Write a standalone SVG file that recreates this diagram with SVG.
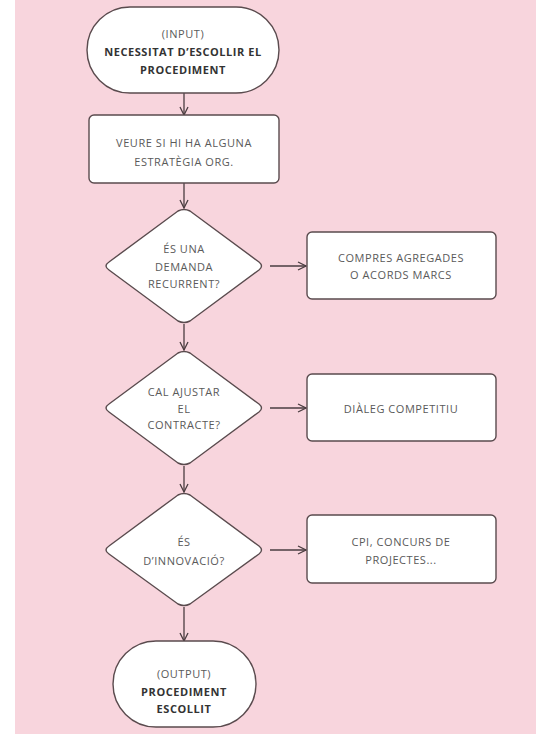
<svg xmlns="http://www.w3.org/2000/svg" width="538" height="734" viewBox="0 0 538 734">
  <defs>
    <marker id="arrow" viewBox="0 0 10 10" refX="9" refY="5" markerWidth="10" markerHeight="10" markerUnits="userSpaceOnUse" orient="auto">
      <path d="M1,1 L9,5 L1,9" fill="none" stroke="#4a3d40" stroke-width="1.3"/>
    </marker>
  </defs>
  <style>
    .shape { fill: #ffffff; stroke: #5a4b4e; stroke-width: 1.4; }
    .edge { fill: none; stroke: #4a3d40; stroke-width: 1.3; marker-end: url(#arrow); }
    text { font-family: "Open Sans", "Noto Sans", "Liberation Sans", sans-serif; font-size: 11px; letter-spacing: 0.55px; text-anchor: middle; dominant-baseline: central; }
    .reg { fill: #5a5a5a; }
    .bold { fill: #333333; font-weight: 700; }
  </style>

  <!-- page -->
  <rect x="0" y="0" width="538" height="734" fill="#ffffff"/>
  <rect x="15" y="0" width="521" height="734" fill="#f8d5dd"/>

  <!-- connectors -->
  <g id="connectors">
    <line class="edge" x1="184" y1="93" x2="184" y2="115"/>
    <line class="edge" x1="184" y1="183" x2="184" y2="208"/>
    <line class="edge" x1="184" y1="324" x2="184" y2="350"/>
    <line class="edge" x1="184" y1="466" x2="184" y2="492"/>
    <line class="edge" x1="184" y1="607" x2="184" y2="641"/>
    <line class="edge" x1="270" y1="266" x2="306" y2="266"/>
    <line class="edge" x1="270" y1="408" x2="306" y2="408"/>
    <line class="edge" x1="270" y1="550" x2="306" y2="550"/>
  </g>

  <!-- start -->
  <g id="input">
    <rect class="shape" x="87" y="7" width="192" height="86" rx="43" ry="43"/>
    <text class="reg" x="183" y="33">(INPUT)</text>
    <text class="bold" x="183" y="51">NECESSITAT D’ESCOLLIR EL</text>
    <text class="bold" x="183" y="69">PROCEDIMENT</text>
  </g>

  <g id="estrategia">
    <rect class="shape" x="89" y="115" width="190" height="68" rx="5" ry="5"/>
    <text class="reg" x="184" y="142">VEURE SI HI HA ALGUNA</text>
    <text class="reg" x="184" y="161">ESTRATÈGIA ORG.</text>
  </g>

  <g id="recurrent">
    <path class="shape" d="M178,211 Q184,208 190,211 L259,262 Q264,266 259,270 L190,321 Q184,324 178,321 L109,270 Q103,266 109,262 Z"/>
    <text class="reg" x="184" y="248">ÉS UNA</text>
    <text class="reg" x="184" y="266">DEMANDA</text>
    <text class="reg" x="184" y="283">RECURRENT?</text>
  </g>

  <g id="compres">
    <rect class="shape" x="307" y="232" width="189" height="67" rx="5" ry="5"/>
    <text class="reg" x="401" y="257">COMPRES AGREGADES</text>
    <text class="reg" x="401" y="274">O ACORDS MARCS</text>
  </g>

  <g id="ajustar">
    <path class="shape" d="M178,353 Q184,350 190,353 L259,404 Q264,408 259,412 L190,463 Q184,466 178,463 L109,412 Q103,408 109,404 Z"/>
    <text class="reg" x="184" y="391">CAL AJUSTAR</text>
    <text class="reg" x="184" y="408">EL</text>
    <text class="reg" x="184" y="424">CONTRACTE?</text>
  </g>

  <g id="dialeg">
    <rect class="shape" x="307" y="374" width="189" height="67" rx="5" ry="5"/>
    <text class="reg" x="401" y="408">DIÀLEG COMPETITIU</text>
  </g>

  <g id="innovacio">
    <path class="shape" d="M178,495 Q184,492 190,495 L259,546 Q264,550 259,554 L190,604 Q184,607 178,604 L109,554 Q103,550 109,546 Z"/>
    <text class="reg" x="184" y="541">ÉS</text>
    <text class="reg" x="184" y="560">D’INNOVACIÓ?</text>
  </g>

  <g id="cpi">
    <rect class="shape" x="307" y="515" width="189" height="68" rx="5" ry="5"/>
    <text class="reg" x="401" y="541">CPI, CONCURS DE</text>
    <text class="reg" x="401" y="559">PROJECTES...</text>
  </g>

  <!-- end -->
  <g id="output">
    <rect class="shape" x="113" y="641" width="143" height="86" rx="43" ry="43"/>
    <text class="reg" x="184" y="673">(OUTPUT)</text>
    <text class="bold" x="184" y="691">PROCEDIMENT</text>
    <text class="bold" x="184" y="708">ESCOLLIT</text>
  </g>
</svg>
